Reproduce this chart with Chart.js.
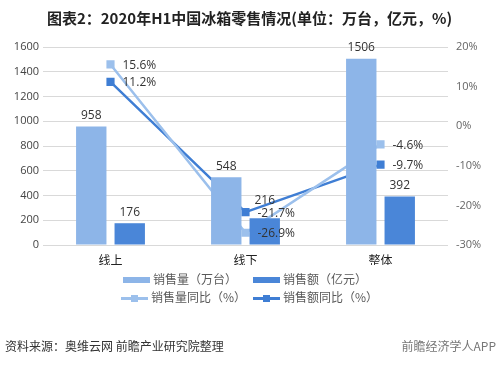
<!DOCTYPE html>
<html><head><meta charset="utf-8">
<script src="https://cdn.jsdelivr.net/npm/chart.js@4.4.1/dist/chart.umd.min.js"></script>
<style>
html,body{margin:0;padding:0;background:#fff;}
#wrap{position:relative;width:499px;height:366px;overflow:hidden;font-family:"Noto Sans CJK SC","Noto Sans",sans-serif;}
#c{position:absolute;left:0;top:0;}
#title{position:absolute;left:0;width:499px;top:7px;text-align:center;font-size:15px;font-weight:bold;color:#222;line-height:22px;}
.lg{position:absolute;font-size:12px;color:#595959;line-height:16px;white-space:nowrap;}
.box{position:absolute;width:27px;height:6px;}
.ln{position:absolute;width:27px;height:3px;}
.mk{position:absolute;width:7px;height:7px;}
#src{position:absolute;left:5px;top:337px;font-size:12px;color:#333;}
#app{position:absolute;right:3px;top:337px;font-size:12px;color:#777;}
</style></head>
<body>
<div id="wrap">
<canvas id="c" width="499" height="366"></canvas>
<div id="title">图表2：2020年H1中国冰箱零售情况(单位：万台，亿元，%)</div>
<div id="legend"></div>
<div id="src">资料来源：奥维云网 前瞻产业研究院整理</div>
<div id="app">前瞻经济学人APP</div>
</div>
<script>
const categories = ['线上', '线下', '整体'];
const salesVolume = [958, 548, 1506];     // 销售量（万台）
const salesAmount = [176, 216, 392];      // 销售额（亿元）
const volumeYoY = [15.6, -26.9, -4.6];    // 销售量同比（%）
const amountYoY = [11.2, -21.7, -9.7];    // 销售额同比（%）
const leftTicks = [0, 1600, 200];
const rightTicks = [-30, 20, 10];
const seriesNames = ['销售量（万台）', '销售额（亿元）', '销售量同比（%）', '销售额同比（%）'];

const C_LIGHT = '#8db5e8', C_DARK = '#4a86d8', C_LLINE = '#9cc0ec', C_DLINE = '#3f7ed4';
const FONT = '"Open Sans","Noto Sans CJK SC",sans-serif';

const labelPlugin = {
  id: 'vlabels',
  afterDatasetsDraw(chart) {
    const ctx = chart.ctx;
    ctx.save();
    ctx.font = '12px ' + FONT;
    ctx.fillStyle = '#333';
    // collect line label positions first
    const lineLabels = [];
    chart.data.datasets.forEach((ds, i) => {
      if (ds.type !== 'line') return;
      chart.getDatasetMeta(i).data.forEach((el, j) => {
        lineLabels.push({x: el.x + 12, y: el.y + 1, text: ds.data[j].toFixed(1) + '%'});
      });
    });
    chart.data.datasets.forEach((ds, i) => {
      if (ds.type !== 'bar') return;
      chart.getDatasetMeta(i).data.forEach((el, j) => {
        let y = el.y - 5;
        // avoid overlapping a line label
        lineLabels.forEach(l => {
          const w = ctx.measureText(l.text).width;
          if (el.x + 12 > l.x && el.x - 12 < l.x + w && Math.abs((y - 7) - l.y) < 12) {
            y = l.y - 7;
          }
        });
        ctx.textAlign = 'center'; ctx.textBaseline = 'bottom';
        ctx.fillText(String(ds.data[j]), el.x, y);
      });
    });
    ctx.textAlign = 'left'; ctx.textBaseline = 'middle';
    lineLabels.forEach(l => ctx.fillText(l.text, l.x, l.y));
    ctx.restore();
  }
};

new Chart(document.getElementById('c'), {
  data: {
    labels: categories,
    datasets: [
      {type: 'bar', label: seriesNames[0], data: salesVolume, backgroundColor: C_LIGHT, yAxisID: 'y', order: 1,
       categoryPercentage: 0.57, barPercentage: 0.79},
      {type: 'bar', label: seriesNames[1], data: salesAmount, backgroundColor: C_DARK, yAxisID: 'y', order: 1,
       categoryPercentage: 0.57, barPercentage: 0.79},
      {type: 'line', label: seriesNames[2], data: volumeYoY, borderColor: C_LLINE, backgroundColor: C_LLINE, borderWidth: 2.5,
       pointStyle: 'rect', pointRadius: 4, yAxisID: 'y2', order: 2},
      {type: 'line', label: seriesNames[3], data: amountYoY, borderColor: C_DLINE, backgroundColor: C_DLINE, borderWidth: 2.5,
       pointStyle: 'rect', pointRadius: 4, yAxisID: 'y2', order: 2}
    ]
  },
  options: {
    responsive: false,
    animation: false,
    layout: {padding: {top: 47, bottom: 101, left: 0, right: 0}},
    plugins: {legend: {display: false}, tooltip: {enabled: false}, title: {display: false}},
    scales: {
      x: {
        grid: {display: false, drawTicks: false},
        border: {display: false},
        ticks: {padding: 9, color: '#222', font: {size: 12, family: FONT}},
        afterFit: s => { s.height = 20; }
      },
      y: {
        position: 'left', min: leftTicks[0], max: leftTicks[1],
        ticks: {stepSize: leftTicks[2], padding: 4, color: '#444', font: {size: 11, family: FONT}, callback: v => String(v)},
        grid: {color: '#d9d9d9', drawTicks: false, lineWidth: 1},
        border: {display: false},
        afterFit: s => { s.width = 43; }
      },
      y2: {
        position: 'right', min: rightTicks[0], max: rightTicks[1],
        ticks: {stepSize: rightTicks[2], padding: 8, color: '#666', font: {size: 11, family: FONT}, callback: v => v + '%'},
        grid: {display: false, drawTicks: false},
        border: {display: false},
        afterFit: s => { s.width = 51; }
      }
    }
  },
  plugins: [labelPlugin]
});

// legend built from the series names
const lg = document.getElementById('legend');
const items = [
  {kind: 'box', color: C_LIGHT, x: 123, y: 280},
  {kind: 'box', color: C_DARK, x: 253, y: 280},
  {kind: 'line', color: C_LLINE, x: 121, y: 298},
  {kind: 'line', color: C_DLINE, x: 253, y: 298}
];
items.forEach((it, i) => {
  if (it.kind === 'box') {
    const b = document.createElement('div'); b.className = 'box';
    b.style.left = it.x + 'px'; b.style.top = (it.y - 3) + 'px'; b.style.background = it.color;
    lg.appendChild(b);
  } else {
    const l = document.createElement('div'); l.className = 'ln';
    l.style.left = it.x + 'px'; l.style.top = (it.y - 1) + 'px'; l.style.background = it.color;
    lg.appendChild(l);
    const m = document.createElement('div'); m.className = 'mk';
    m.style.left = (it.x + 10) + 'px'; m.style.top = (it.y - 3) + 'px'; m.style.background = it.color;
    lg.appendChild(m);
  }
  const t = document.createElement('div'); t.className = 'lg';
  t.textContent = seriesNames[i];
  t.style.left = (it.x + 30) + 'px'; t.style.top = (it.y - 9) + 'px';
  lg.appendChild(t);
});
</script>
</body></html>
